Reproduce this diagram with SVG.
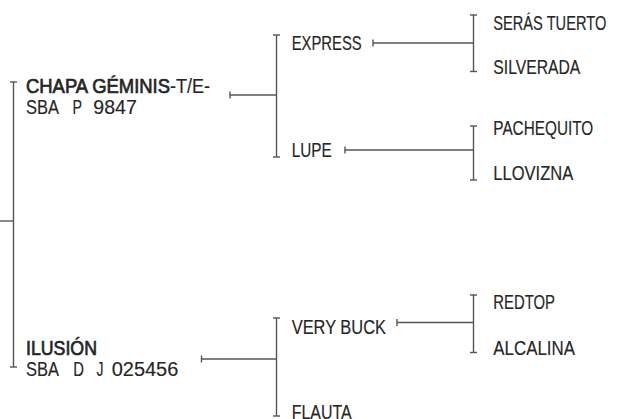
<svg xmlns="http://www.w3.org/2000/svg" width="617" height="419" viewBox="0 0 617 419">
<style>
text{font-family:"Liberation Sans",Arial,sans-serif;font-size:19.5px;fill:#262626;stroke:#262626;stroke-width:0.15}
.b{stroke-width:0.7}
.c line{stroke:#555;stroke-width:1.4;fill:none}
</style>
<rect width="617" height="419" fill="#fff"/>
<g class="c" id="connectors">
<line x1="0" y1="221" x2="13.5" y2="221"/>
<line x1="13.5" y1="82" x2="13.5" y2="367"/>
<line x1="10" y1="82" x2="17" y2="82"/>
<line x1="10" y1="367" x2="17" y2="367"/>
<line x1="230" y1="95" x2="276.5" y2="95"/>
<line x1="230" y1="91.5" x2="230" y2="98.5"/>
<line x1="276.5" y1="35" x2="276.5" y2="157"/>
<line x1="273" y1="35" x2="280" y2="35"/>
<line x1="273" y1="157" x2="280" y2="157"/>
<line x1="201.5" y1="359" x2="276.5" y2="359"/>
<line x1="201.5" y1="355.5" x2="201.5" y2="362.5"/>
<line x1="276.5" y1="318" x2="276.5" y2="416"/>
<line x1="273" y1="318" x2="280" y2="318"/>
<line x1="273" y1="416" x2="280" y2="416"/>
<line x1="373" y1="43" x2="473.5" y2="43"/>
<line x1="373" y1="39.5" x2="373" y2="46.5"/>
<line x1="473.5" y1="15" x2="473.5" y2="71.5"/>
<line x1="470" y1="15" x2="477" y2="15"/>
<line x1="470" y1="71.5" x2="477" y2="71.5"/>
<line x1="345" y1="150" x2="473.5" y2="150"/>
<line x1="345" y1="146.5" x2="345" y2="153.5"/>
<line x1="473.5" y1="126" x2="473.5" y2="180"/>
<line x1="470" y1="126" x2="477" y2="126"/>
<line x1="470" y1="180" x2="477" y2="180"/>
<line x1="397" y1="322.5" x2="473.5" y2="322.5"/>
<line x1="397" y1="319" x2="397" y2="326"/>
<line x1="473.5" y1="295" x2="473.5" y2="352.5"/>
<line x1="470" y1="295" x2="477" y2="295"/>
<line x1="470" y1="352.5" x2="477" y2="352.5"/>
</g>
<g id="chapa" transform="scale(0.76,1)">
<text y="93.5"><tspan class="b" x="34.21" textLength="189.47" lengthAdjust="spacingAndGlyphs">CHAPA GÉMINIS</tspan><tspan x="223.68" textLength="52.63" lengthAdjust="spacingAndGlyphs">-T/E-</tspan></text>
<text y="114"><tspan x="34.21" textLength="43.42" lengthAdjust="spacingAndGlyphs">SBA</tspan><tspan x="95.39" textLength="12.5" lengthAdjust="spacingAndGlyphs">P</tspan><tspan x="122.76" textLength="57.24" lengthAdjust="spacingAndGlyphs">9847</tspan></text>
</g>
<g id="ilusion" transform="scale(0.76,1)">
<text class="b" x="34.21" y="355.5" textLength="93.42" lengthAdjust="spacingAndGlyphs">ILUSIÓN</text>
<text y="376"><tspan x="34.21" textLength="43.42" lengthAdjust="spacingAndGlyphs">SBA</tspan><tspan x="96.45" textLength="14.08" lengthAdjust="spacingAndGlyphs">D</tspan><tspan x="126.97" textLength="9.21" lengthAdjust="spacingAndGlyphs">J</tspan><tspan x="146.97" textLength="87.63" lengthAdjust="spacingAndGlyphs">025456</tspan></text>
</g>
<g id="express" transform="scale(0.76,1)"><text x="383.82" y="50" textLength="92.11" lengthAdjust="spacingAndGlyphs">EXPRESS</text></g>
<g id="lupe" transform="scale(0.76,1)"><text x="383.82" y="157.5" textLength="52.63" lengthAdjust="spacingAndGlyphs">LUPE</text></g>
<g id="verybuck" transform="scale(0.76,1)"><text x="383.82" y="334" textLength="124.08" lengthAdjust="spacingAndGlyphs">VERY BUCK</text></g>
<g id="flauta" transform="scale(0.76,1)"><text x="383.82" y="419.5" textLength="78.95" lengthAdjust="spacingAndGlyphs">FLAUTA</text></g>
<g id="seras" transform="scale(0.76,1)"><text x="649.08" y="30" textLength="148.68" lengthAdjust="spacingAndGlyphs">SERÁS TUERTO</text></g>
<g id="silverada" transform="scale(0.76,1)"><text x="649.08" y="74.5" textLength="114.47" lengthAdjust="spacingAndGlyphs">SILVERADA</text></g>
<g id="pachequito" transform="scale(0.76,1)"><text x="649.08" y="135" textLength="131.58" lengthAdjust="spacingAndGlyphs">PACHEQUITO</text></g>
<g id="llovizna" transform="scale(0.76,1)"><text x="649.08" y="180.5" textLength="105.26" lengthAdjust="spacingAndGlyphs">LLOVIZNA</text></g>
<g id="redtop" transform="scale(0.76,1)"><text x="649.08" y="309" textLength="81.18" lengthAdjust="spacingAndGlyphs">REDTOP</text></g>
<g id="alcalina" transform="scale(0.76,1)"><text x="649.08" y="355.5" textLength="107.5" lengthAdjust="spacingAndGlyphs">ALCALINA</text></g>
</svg>
